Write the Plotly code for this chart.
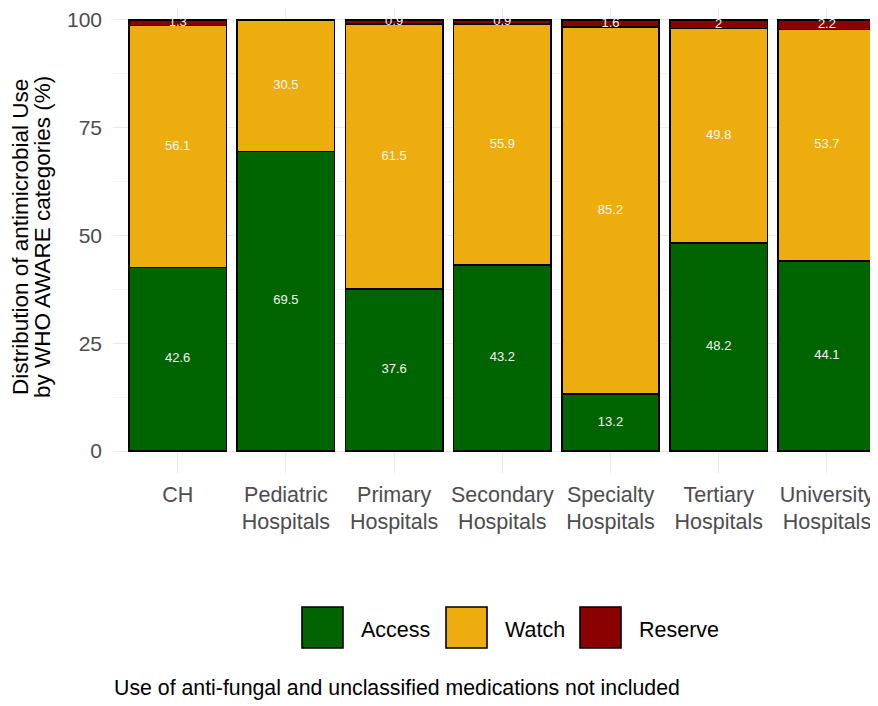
import plotly.graph_objects as go

categories = ["CH", "Pediatric<br>Hospitals", "Primary<br>Hospitals", "Secondary<br>Hospitals",
              "Specialty<br>Hospitals", "Tertiary<br>Hospitals", "University<br>Hospitals"]
access = [42.6, 69.5, 37.6, 43.2, 13.2, 48.2, 44.1]
watch = [56.1, 30.5, 61.5, 55.9, 85.2, 49.8, 53.7]
reserve = [1.3, 0.0, 0.9, 0.9, 1.6, 2.0, 2.2]
series_names = ["Access", "Watch", "Reserve"]
series_colors = ["#006400", "#EEAD0E", "#8B0000"]
y_ticks = [0, 25, 50, 75, 100]
y_title_lines = ["Distribution of antimicrobial Use", "by WHO AWARE categories (%)"]
caption = "Use of anti-fungal and unclassified medications not included"

OFF = 8  # page body offset of the figure on screen
W, H = 878 - OFF, 706 - OFF
L, R, T, B = 105, 0, 0, 233
PW, PH = W - L - R, H - T - B

fig = go.Figure()
series = [access, watch, reserve]
for name, vals, col in zip(series_names, series, series_colors):
    fig.add_trace(go.Bar(x=categories, y=vals, name=name,
                         marker=dict(color=col, line=dict(color="black", width=1.6)),
                         width=0.9, showlegend=False, hoverinfo="x+y"))

# labels at segment midpoints
lx, ly, lt = [], [], []
for i, c in enumerate(categories):
    base = 0
    for vals in series:
        v = vals[i]
        if v > 0:
            lx.append(c); ly.append(base + v / 2); lt.append(f"{v:g}")
        base += v
fig.add_trace(go.Scatter(x=lx, y=ly, text=lt, mode="text", showlegend=False, hoverinfo="skip",
                         textfont=dict(color="#F5F5F5", size=13, family="Liberation Sans, Arial")))


def px_x(x):
    return (x - OFF - L) / PW


def px_y(y):
    return (T + PH - (y - OFF)) / PH


shapes = []
annotations = []
key_left = [302, 446, 580]
for name, col, kx in zip(series_names, series_colors, key_left):
    shapes.append(dict(type="rect", xref="paper", yref="paper", x0=px_x(kx), x1=px_x(kx + 41),
                       y0=px_y(648), y1=px_y(607), fillcolor=col, line=dict(color="black", width=1.6)))
    annotations.append(dict(xref="paper", yref="paper", x=px_x(kx + 57), y=px_y(630), text=name,
                            showarrow=False, xanchor="left", yanchor="middle",
                            font=dict(size=21.5, color="black", family="Liberation Sans, Arial")))

annotations.append(dict(xref="paper", yref="paper", x=px_x(112), y=px_y(688), text=caption,
                        showarrow=False, xanchor="left", yanchor="middle",
                        font=dict(size=21.3, color="black", family="Liberation Sans, Arial")))
for line, cx in zip(y_title_lines, [21, 43]):
    annotations.append(dict(xref="paper", yref="paper", x=px_x(cx), y=px_y(237), text=line,
                            showarrow=False, xanchor="center", yanchor="middle", textangle=-90,
                            font=dict(size=22.5, color="black", family="Liberation Sans, Arial")))

fig.update_layout(
    barmode="stack",
    width=W, height=H,
    margin=dict(l=L, r=R, t=T, b=B, pad=0),
    plot_bgcolor="white", paper_bgcolor="white",
    shapes=shapes, annotations=annotations,
    font=dict(family="Liberation Sans, Arial"),
    xaxis=dict(range=[-0.598, 6.472], showgrid=True, gridcolor="#EBEBEB", gridwidth=1.1,
               tickfont=dict(size=21.5, color="#4D4D4D"), ticks="", zeroline=False, showline=False,
               ticklabelstandoff=6),
    yaxis=dict(range=[-5.1, 102.78], tickvals=y_ticks, showgrid=True, gridcolor="#EBEBEB", gridwidth=1.1,
               tickfont=dict(size=21, color="#4D4D4D"), ticks="", zeroline=False, showline=False,
               ticklabelstandoff=10,
               minor=dict(tickvals=[12.5, 37.5, 62.5, 87.5], showgrid=True, gridcolor="#F3F3F3", gridwidth=0.6)),
)

fig.write_html("out.html")
